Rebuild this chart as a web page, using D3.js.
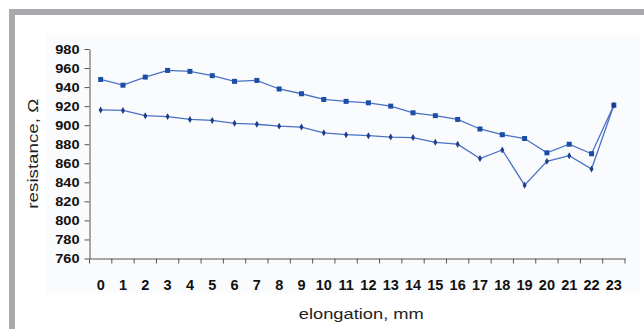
<!DOCTYPE html>
<html lang="en">
<head>
<meta charset="UTF-8">
<title>resistance vs elongation</title>
<script src="https://d3js.org/d3.v7.min.js"></script>
<style>
    body { margin: 0; background: #fff; }
    .tick text { font-family: "Liberation Sans", Arial, sans-serif; font-weight: bold; font-size: 14.5px; fill: #111; }
    .axis-title { font-family: "Liberation Sans", Arial, sans-serif; font-size: 15px; fill: #222; }
</style>
</head>
<body>
<svg width="644" height="329"></svg>
<script>
    // values
    var elongation = d3.range(0, 24);
    var upper = [948, 942, 950.5, 957.5, 956.5, 952, 946, 947, 938, 933, 927, 925,
                 923.5, 920, 913, 910, 906, 896, 890, 886, 871, 880, 870, 921];
    var lower = [916, 915.5, 910, 909, 906, 905, 902, 901, 899, 898, 892, 890,
                 889, 887.5, 887, 882, 880, 865, 874, 837, 862, 868, 854, 921];
    var yTicks = d3.range(760, 981, 20);

    var svg = d3.select("svg");

    // grey frame, top and left only
    svg.append("rect").attr("x", 9).attr("y", 9).attr("width", 635).attr("height", 6).attr("fill", "#a8aaad");
    svg.append("rect").attr("x", 9).attr("y", 9).attr("width", 6).attr("height", 320).attr("fill", "#a8aaad");
    // faint plot backdrop
    svg.append("rect").attr("x", 46).attr("y", 35).attr("width", 594).attr("height", 258).attr("fill", "#fafbfd");

    var plotL = 89.5, plotR = 625, plotT = 49, plotB = 258.5;

    var x = d3.scaleBand().domain(elongation).range([plotL, plotR]);
    var y = d3.scaleLinear().domain([760, 980]).range([plotB, plotT]);

    var xAxis = svg.append("g")
        .attr("transform", "translate(0," + plotB + ")")
        .call(d3.axisBottom(x).tickSize(0).tickPadding(21));
    xAxis.select(".domain").attr("stroke", "#555");
    // ticks on the band edges
    xAxis.selectAll(".edge")
        .data(d3.range(0, 25))
        .enter().append("line")
        .attr("x1", function (d) { return plotL + d * x.bandwidth(); })
        .attr("x2", function (d) { return plotL + d * x.bandwidth(); })
        .attr("y1", 0).attr("y2", 5)
        .attr("stroke", "#555");

    var yAxis = svg.append("g")
        .attr("transform", "translate(" + plotL + ",0)")
        .call(d3.axisLeft(y).tickValues(yTicks).tickSize(5).tickPadding(5).tickSizeOuter(0));
    yAxis.selectAll("line, .domain").attr("stroke", "#555");
    // labels in the picture are a little wide for their height
    yAxis.selectAll(".tick text")
        .style("font-size", "13px")
        .attr("x", -10 / 1.12)
        .attr("transform", "scale(1.12,1)");

    svg.append("text").attr("class", "axis-title")
        .attr("transform", "translate(" + ((plotL + plotR) / 2 + 4) + ",319) scale(1.22,1)")
        .attr("text-anchor", "middle")
        .text("elongation, mm");

    svg.append("text").attr("class", "axis-title")
        .attr("transform", "translate(38," + (plotT + plotB) / 2 + ") rotate(-90) scale(1.25,1)")
        .attr("text-anchor", "middle")
        .text("resistance, Ω");

    var cx = function (d, i) { return x(elongation[i]) + x.bandwidth() / 2; };
    var line = d3.line().x(cx).y(function (d) { return y(d); });

    [lower, upper].forEach(function (s) {
        svg.append("path")
            .datum(s)
            .attr("d", line)
            .attr("fill", "none")
            .attr("stroke", "#4a70c6")
            .attr("stroke-width", 1.3);
    });

    svg.selectAll(".sq")
        .data(upper)
        .enter().append("rect")
        .attr("x", function (d, i) { return cx(d, i) - 2.5; })
        .attr("y", function (d) { return y(d) - 2.5; })
        .attr("width", 5).attr("height", 5)
        .attr("fill", "#1b4ea6");

    svg.selectAll(".dm")
        .data(lower)
        .enter().append("path")
        .attr("d", d3.symbol().type(d3.symbolDiamond).size(14))
        .attr("transform", function (d, i) { return "translate(" + cx(d, i) + "," + y(d) + ")"; })
        .attr("fill", "#1d3c8c");
</script>
</body>
</html>
